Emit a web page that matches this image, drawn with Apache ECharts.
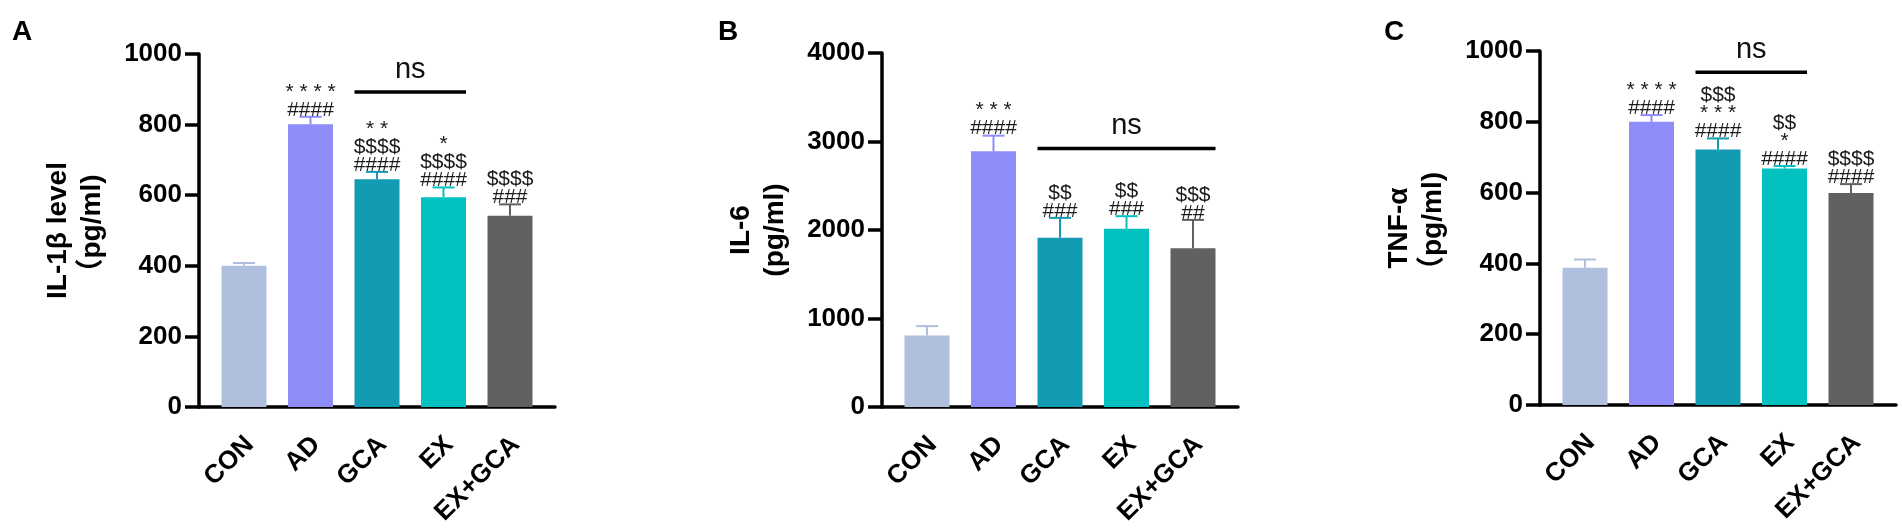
<!DOCTYPE html>
<html lang="en">
<head>
    <meta charset="UTF-8">
    <title>IL-1β / IL-6 / TNF-α</title>
    <style>
        body{margin:0;background:#fff;}
        .main{width:1902px;height:530px;}
    </style>
</head>
<body>
<div class="main"></div>
</body>
<script src="https://cdn.jsdelivr.net/npm/echarts@6/dist/echarts.min.js"></script>
<script>
    // groups
    var categories = ['CON', 'AD', 'GCA', 'EX', 'EX+GCA'];

    // A: IL-1β
    var il1bMean = [400, 801, 645, 594, 542];
    var il1bErr = [8, 21, 21, 28, 32];
    var il1bSig = ['', '* * * *\n####', '* *\n$$$$\n####', '*\n$$$$\n####', '$$$$\n###'];

    // B: IL-6
    var il6Mean = [809, 2889, 1912, 2013, 1794];
    var il6Err = [105, 177, 225, 143, 320];
    var il6Sig = ['', '* * *\n####', '$$\n###', '$$\n###', '$$$\n##'];

    // C: TNF-α
    var tnfMean = [388, 800, 722, 668, 599];
    var tnfErr = [23, 19, 31, 7, 25];
    var tnfSig = ['', '* * * *\n####', '$$$\n* * *\n####', '$$\n*\n####', '$$$$\n####'];

    // ns brackets: [from group, to group, height]
    var il1bNs = [[2, 3, 892]];
    var il6Ns = [[2, 4, 2920]];
    var tnfNs = [[2, 3, 940]];

    var colors = ['#afbfdd', '#8d8cf9', '#129bb3', '#02c1c0', '#616161'];
    var FONT = "'Liberation Sans', Arial, 'Noto Sans CJK SC', sans-serif";
    var BAR_W = 45;

    var panels = [
        {letter: 'A', letterX: 7, axisX: 199, top: 54, h: 353, max: 1000, step: 200,
         name: 'IL-1β level\n（pg/ml)', mean: il1bMean, err: il1bErr, sig: il1bSig, ns: il1bNs},
        {letter: 'B', letterX: 713, axisX: 882, top: 53, h: 354, max: 4000, step: 1000,
         name: 'IL-6\n(pg/ml)', mean: il6Mean, err: il6Err, sig: il6Sig, ns: il6Ns},
        {letter: 'C', letterX: 1379, axisX: 1540, top: 51, h: 354, max: 1000, step: 200,
         name: 'TNF-α\n（pg/ml)', mean: tnfMean, err: tnfErr, sig: tnfSig, ns: tnfNs}
    ];

    var myChart = echarts.init(document.getElementsByClassName('main')[0]);

    var option = {
        animation: false,
        backgroundColor: '#fff',
        title: [], grid: [], xAxis: [], yAxis: [], series: []
    };

    panels.forEach(function (p, k) {
        var gBar = k * 2, gFrame = k * 2 + 1;

        option.title.push({
            text: p.letter, left: p.letterX, top: 13,
            textStyle: {fontFamily: FONT, fontSize: 28, fontWeight: 'bold', color: '#000'}
        });

        // grid for the bars (category bands centred on the bars)
        option.grid.push({left: p.axisX + 11.75, top: p.top, width: 332.5, height: p.h});
        // grid for the axis frame (y axis + full length x axis line)
        option.grid.push({left: p.axisX, top: p.top, width: 356, height: p.h});

        option.xAxis.push({
            type: 'category', gridIndex: gBar, data: categories,
            axisLine: {show: false},
            axisTick: {alignWithLabel: true, length: 15, lineStyle: {color: '#000', width: 3.5}},
            axisLabel: {rotate: 45, margin: 28, color: '#000', fontFamily: FONT,
                fontSize: 26, fontWeight: 'bold', interval: 0,
                verticalAlign: 'top', lineHeight: 16}
        });
        option.yAxis.push({type: 'value', gridIndex: gBar, min: 0, max: p.max, show: false});

        option.xAxis.push({
            type: 'value', gridIndex: gFrame, min: 0, max: 1,
            axisLine: {show: true, lineStyle: {color: '#000', width: 3.5}},
            axisTick: {show: false}, axisLabel: {show: false}, splitLine: {show: false}
        });
        option.yAxis.push({
            type: 'value', gridIndex: gFrame, min: 0, max: p.max, interval: p.step,
            name: p.name, nameLocation: 'middle', nameRotate: 90, nameGap: 90,
            nameTextStyle: {fontFamily: FONT, fontSize: 28, fontWeight: 'bold', color: '#000', lineHeight: 34},
            axisLine: {show: true, lineStyle: {color: '#000', width: 3.5}},
            axisTick: {show: true, length: 14, lineStyle: {color: '#000', width: 3.5}},
            axisLabel: {margin: 17, color: '#000', fontFamily: FONT, fontSize: 26, fontWeight: 'bold',
                formatter: function (v) { return String(v); }},
            splitLine: {show: false}
        });

        // bars
        option.series.push({
            type: 'bar', xAxisIndex: gBar, yAxisIndex: gBar, barWidth: BAR_W,
            data: p.mean.map(function (v, i) {
                return {value: v, itemStyle: {color: colors[i]}};
            })
        });

        // error bars (upper only) + significance marks
        option.series.push({
            type: 'custom', xAxisIndex: gBar, yAxisIndex: gBar, z: 5,
            data: p.mean.map(function (v, i) { return [i, v, p.err[i]]; }),
            renderItem: function (params, api) {
                var i = params.dataIndex;
                var m = api.value(1), e = api.value(2);
                var base = api.coord([api.value(0), m]);
                var top = api.coord([api.value(0), m + e]);
                var c = colors[i];
                return {
                    type: 'group',
                    children: [
                        {type: 'line', shape: {x1: base[0], y1: base[1], x2: top[0], y2: top[1]},
                            style: {stroke: c, lineWidth: 2}},
                        {type: 'line', shape: {x1: top[0] - 11, y1: top[1], x2: top[0] + 11, y2: top[1]},
                            style: {stroke: c, lineWidth: 2}},
                        {type: 'text', x: top[0], y: top[1] + 2,
                            style: {text: p.sig[i], align: 'center', verticalAlign: 'bottom',
                                fontFamily: FONT, fontSize: 21, lineHeight: 18, fill: '#1a1a1a'}}
                    ]
                };
            }
        });

        // ns bracket
        option.series.push({
            type: 'custom', xAxisIndex: gBar, yAxisIndex: gBar, z: 5,
            encode: {x: [0, 1], y: 2},
            data: p.ns,
            renderItem: function (params, api) {
                var a = api.coord([api.value(0), api.value(2)]);
                var b = api.coord([api.value(1), api.value(2)]);
                var x1 = a[0] - BAR_W / 2, x2 = b[0] + BAR_W / 2;
                return {
                    type: 'group',
                    children: [
                        {type: 'line', shape: {x1: x1, y1: a[1], x2: x2, y2: a[1]},
                            style: {stroke: '#000', lineWidth: 3.5}},
                        {type: 'text', x: (x1 + x2) / 2, y: a[1] - 8,
                            style: {text: 'ns', align: 'center', verticalAlign: 'bottom',
                                fontFamily: FONT, fontSize: 29, fill: '#111'}}
                    ]
                };
            }
        });
    });

    myChart.setOption(option);
</script>
</html>
